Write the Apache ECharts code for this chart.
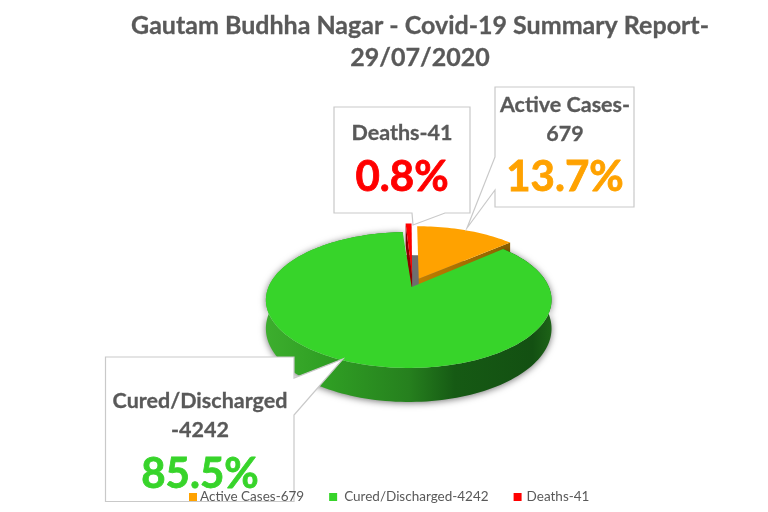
<!DOCTYPE html>
<html><head><meta charset="utf-8">
<style>html,body{margin:0;padding:0;background:#fff}#c{width:768px;height:512px}</style>
<script src="https://cdn.jsdelivr.net/npm/echarts@6/dist/echarts.min.js"></script>
</head><body><div id="c"></div>
<script>
var categories = ['Active Cases-679', 'Cured/Discharged-4242', 'Deaths-41'];
var values = [679, 4242, 41];
var percentLabels = ['13.7%', '85.5%', '0.8%'];
var calloutLines = [['Active Cases-', '679'], ['Cured/Discharged', '-4242'], ['Deaths-41']];
var colors = ['#FFA200', '#37D42A', '#FF0000'];
var explode = [0.14, 0, 0.19];
var nudgeU = [0.015, 0, 0.03];
var apexNudge = [0, 3, 0];
var legendPad = [-2, 2, 0];

// perspective disc
var P = {cx: 408.7, cy: 287, sx: 140.2, sy: 65.5, k: 0.191, depth: 27.5};
var total = values.reduce(function (a, b) { return a + b; }, 0);
function sliceAngles(i) {
  var s = 0;
  for (var j = 0; j < i; j++) s += values[j];
  return [s / total * Math.PI * 2, (s + values[i]) / total * Math.PI * 2];
}
function proj(u, v, low) {
  var d = 1 + P.k * v;
  return [P.cx + P.sx * u / d, P.cy - P.sy * v / d + (low ? P.depth / d : 0)];
}
function rim(a0, a1, e, a, low, nu) {
  var out = [], n = Math.max(2, Math.ceil(Math.abs(a1 - a0) / 0.03));
  for (var i = 0; i <= n; i++) {
    var t = a0 + (a1 - a0) * i / n;
    out.push(proj(Math.sin(t) + e * Math.sin(a) + (nu || 0), Math.cos(t) + e * Math.cos(a), low));
  }
  return out;
}
function poly(points, style, z2) {
  return {type: 'polygon', shape: {points: points}, style: style, z2: z2 || 0, silent: true};
}
function hGrad(stops) {
  return new echarts.graphic.LinearGradient(P.cx - 144, 0, P.cx + 144, 0, stops, true);
}

function renderSlice(params) {
  var i = params.seriesIndex;
  var ang = sliceAngles(i), mid = (ang[0] + ang[1]) / 2, e = explode[i], nu = nudgeU[i];
  var ax = e * Math.sin(mid) + nu, ay = e * Math.cos(mid);
  var top = rim(ang[0], ang[1], e, mid, false, nu);
  var low = rim(ang[0], ang[1], e, mid, true, nu);
  var apexT = proj(ax, ay, false), apexB = proj(ax, ay, true);
  apexT[0] += apexNudge[i]; apexB[0] += apexNudge[i];
  var kids = [];
  if (i === 0) {
    // floor showing through the gap between the slices
    var g = sliceAngles(2);
    var floor = [[P.cx + apexNudge[1], P.cy + P.depth]].concat(rim(g[0] - 0.02, Math.PI * 2 + ang[1], 0, 0, true));
    kids.push(poly(floor, {fill: '#6E6E6E'}));
    kids.push(poly([apexT, top[top.length - 1], low[low.length - 1], apexB],
      {fill: new echarts.graphic.LinearGradient(apexT[0], 0, top[top.length - 1][0], 0,
        [{offset: 0, color: '#C07E00'}, {offset: 1, color: '#8A6000'}], true)}));
  }
  if (i === 2) {
    kids.push(poly([apexT, top[0], low[0], apexB], {fill: '#8E0000'}));
    kids.push(poly([apexT, top[top.length - 1], low[low.length - 1], apexB], {fill: '#A00000'}));
  }
  if (i === 1) {
    kids.push(poly(top.concat(low.slice().reverse()), {
      fill: hGrad([
        {offset: 0, color: '#3DAE2E'}, {offset: 0.2, color: '#30A024'},
        {offset: 0.5, color: '#26801E'}, {offset: 0.66, color: '#165A14'},
        {offset: 0.93, color: '#135012'}, {offset: 1, color: '#1E6418'}]),
      shadowBlur: 7, shadowColor: 'rgba(0,0,0,0.55)', shadowOffsetY: 1
    }));
  }
  kids.push(poly([apexT].concat(top), {fill: colors[i]}, 2));
  return {type: 'group', children: kids};
}

// callout geometry: box rectangle + pointer (base a, base b, tip)
var boxes = [
  {x: 495, y: 87, w: 139, h: 120, side: 'left', b0: 157, b1: 190, tip: [467, 228], tx: 565, ty: [105, 134], py: 177},
  {x: 105.5, y: 357, w: 188.5, h: 144.5, side: 'right', b0: 378, b1: 415, tip: [343, 359], tx: 200, ty: [401, 430], py: 474},
  {x: 334, y: 107, w: 136, h: 106, side: 'bottom', b0: 412, b1: 445, tip: [413, 225], tx: 402, ty: [133], py: 177}
];
function renderCallout(params, api) {
  var i = api.value(0), b = boxes[i], x0 = b.x, y0 = b.y, x1 = b.x + b.w, y1 = b.y + b.h, pts;
  if (b.side === 'left') pts = [[x0, y0], [x1, y0], [x1, y1], [x0, y1], [x0, b.b1], b.tip, [x0, b.b0]];
  if (b.side === 'right') pts = [[x0, y0], [x1, y0], [x1, b.b0], b.tip, [x1, b.b1], [x1, y1], [x0, y1]];
  if (b.side === 'bottom') pts = [[x0, y0], [x1, y0], [x1, y1], [b.b1, y1], b.tip, [b.b0, y1], [x0, y1]];
  var kids = [{type: 'polygon', shape: {points: pts},
    style: {fill: '#fff', stroke: '#C9C9C9', lineWidth: 1.2}, silent: true}];
  calloutLines[i].forEach(function (t, j) {
    kids.push({type: 'text', z2: 3, silent: true, style: {
      text: t, x: b.tx, y: b.ty[j], align: 'center', verticalAlign: 'middle',
      fontFamily: 'Lato', fontWeight: 'bold', fontSize: 21.5, fill: '#595959',
      stroke: '#595959', lineWidth: 0.3}});
  });
  kids.push({type: 'text', z2: 3, silent: true, style: {
    text: percentLabels[i], x: b.tx, y: b.py, align: 'center', verticalAlign: 'middle',
    fontFamily: 'Lato', fontWeight: 'bold', fontSize: 42, fill: colors[i],
    stroke: colors[i], lineWidth: 0.8}});
  return {type: 'group', children: kids};
}

var zs = [2, 4, 3];
var series = categories.map(function (name, i) {
  return {type: 'custom', name: name, coordinateSystem: 'none', z: zs[i], silent: true,
    itemStyle: {color: colors[i]}, data: [[values[i]]], renderItem: renderSlice};
});
series.push({type: 'custom', name: 'callouts', coordinateSystem: 'none', z: 5, silent: true,
  data: [[0], [1], [2]], renderItem: renderCallout});

var chart = echarts.init(document.getElementById('c'), null, {renderer: 'canvas'});
chart.setOption({
  animation: false,
  backgroundColor: '#fff',
  title: {
    text: 'Gautam Budhha Nagar - Covid-19 Summary Report-\n29/07/2020',
    left: 415, top: 5, textAlign: 'center',
    textStyle: {fontFamily: 'Lato', fontWeight: 'bold', fontSize: 25, color: '#595959', lineHeight: 32,
      textBorderColor: '#595959', textBorderWidth: 0.3}
  },
  legend: {
    data: categories.map(function (n, i) {
      return {name: n, textStyle: {padding: [0, 0, 0, legendPad[i]]}};
    }),
    left: 184, top: 485, z: 10, itemWidth: 8, itemHeight: 8, itemGap: 25,
    icon: 'rect', selectedMode: false,
    textStyle: {fontFamily: 'Lato', fontSize: 13.5, color: '#595959'}
  },
  series: series
});
</script></body></html>
